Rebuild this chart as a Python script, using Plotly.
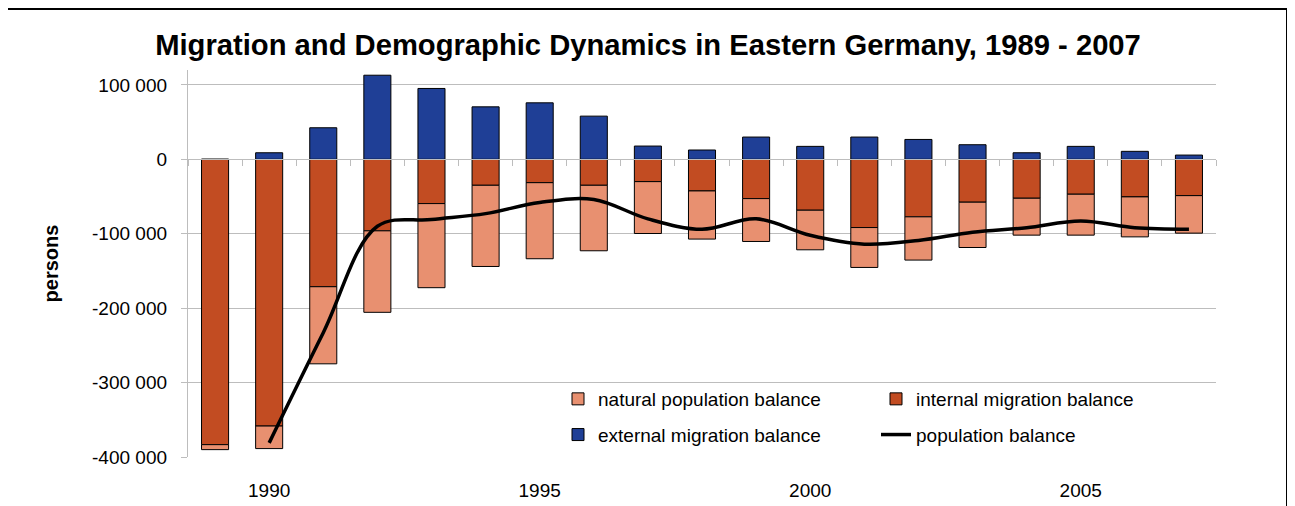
import plotly.graph_objects as go

years = [1989, 1990, 1991, 1992, 1993, 1994, 1995, 1996, 1997, 1998,
         1999, 2000, 2001, 2002, 2003, 2004, 2005, 2006, 2007]

external = [0, 8800, 42400, 113000, 95200, 70500, 75900, 58000, 17800, 12500,
            29900, 17400, 29900, 26700, 19600, 8800, 17400, 10700, 5700]
internal = [-383400, -358400, -171200, -96100, -59500, -34900, -31400, -34900, -30000, -42500,
            -52800, -68400, -91700, -77300, -57600, -52300, -46900, -50500, -48800]
natural = [-6700, -30300, -103600, -109500, -113000, -109100, -102200, -88000, -69700, -64700,
           -57600, -53200, -53600, -58100, -60900, -49600, -55000, -53700, -50400]

pop_years = [1990, 1991, 1992, 1993, 1994, 1995, 1996, 1997, 1998,
             1999, 2000, 2001, 2002, 2003, 2004, 2005, 2006, 2007]
pop_balance = [-381000, -233000, -90000, -81000, -73000, -58000, -54000, -80000, -94000,
               -80000, -102000, -114000, -109000, -98000, -92000, -83000, -92000, -94000]

y_ticks = [100000, 0, -100000, -200000, -300000, -400000]
y_labels = ['100 000', '0', '-100 000', '-200 000', '-300 000', '-400 000']
x_ticks = [1990, 1995, 2000, 2005]
boundaries = [y - 0.5 for y in years] + [years[-1] + 0.5]

# page body has an 8px margin, so lay things out 8px up/left of where they should land
OFF = 8
W, H = 1295, 506
L, T = 188 - OFF, 70 - OFF
R, B = W - (1216 - OFF), H - (457 - OFF)
pw, ph = W - L - R, H - T - B
YMIN, YMAX = -400000, 120000

FONT = 'Liberation Sans, Arial, sans-serif'
GRID = '#bdbdbd'

def px_x(p):
    return (p - OFF - L) / pw

def px_y(p):
    return (H - B - (p - OFF)) / ph

fig = go.Figure()

fig.add_trace(go.Bar(x=years, y=internal, name='internal migration balance', legend='legend2',
                     legendgroup='int', marker=dict(color='#C24C22', line=dict(color='black', width=1))))
fig.add_trace(go.Bar(x=years, y=natural, name='natural population balance', legend='legend',
                     legendgroup='nat', marker=dict(color='#E89070', line=dict(color='black', width=1))))
fig.add_trace(go.Bar(x=years, y=external, name='external migration balance', legend='legend',
                     legendgroup='ext', marker=dict(color='#1F3F96', line=dict(color='black', width=1))))
fig.add_trace(go.Scatter(x=pop_years, y=pop_balance, name='population balance', legend='legend2',
                         legendgroup='pop', mode='lines',
                         line=dict(color='black', width=3.5, shape='spline', smoothing=1)))
# helper trace so the zero-line tick axis gets drawn
fig.add_trace(go.Scatter(x=[], y=[], xaxis='x2', showlegend=False, hoverinfo='skip'))

fig.update_traces(width=0.5, selector=dict(type='bar'))

legend_style = dict(font=dict(family=FONT, size=19, color='black'), bgcolor='rgba(0,0,0,0)',
                    traceorder='grouped', tracegroupgap=8, yanchor='top')

fig.update_layout(
    width=W, height=H,
    margin=dict(l=L, r=R, t=T, b=B, autoexpand=False),
    paper_bgcolor='white', plot_bgcolor='white',
    barmode='relative', bargap=0.5,
    font=dict(family=FONT, size=19, color='black'),
    title=dict(text='<b>Migration and Demographic Dynamics in Eastern Germany, 1989 - 2007</b>',
               font=dict(family=FONT, size=29.2, color='black'),
               xref='container', x=(648 - OFF) / W, xanchor='center',
               yref='container', y=1 - (45 - OFF) / H, yanchor='middle'),
    xaxis=dict(range=[1988.5, 2007.5], tickvals=x_ticks, showgrid=False, zeroline=False,
               showline=False, ticks='outside', ticklen=0, tickcolor='rgba(0,0,0,0)',
               ticklabelstandoff=16, tickfont=dict(size=19), automargin=False),
    xaxis2=dict(overlaying='x', matches='x', anchor='free',
                position=(0 - YMIN) / (YMAX - YMIN),
                tickvals=boundaries, showticklabels=False, ticks='outside', ticklen=6,
                tickcolor=GRID, tickwidth=1.3, showline=True, linecolor=GRID, linewidth=1.3,
                showgrid=False, zeroline=False),
    yaxis=dict(range=[YMIN, YMAX], tickvals=y_ticks, ticktext=y_labels,
               showgrid=True, gridcolor=GRID, gridwidth=1.3, zeroline=False,
               showline=True, linecolor=GRID, linewidth=1.3,
               ticks='outside', ticklen=6, tickcolor=GRID, tickwidth=1.3,
               ticklabelstandoff=10, tickfont=dict(size=19), automargin=False,
               title=dict(text='<b>persons</b>', font=dict(size=20), standoff=28)),
    legend=dict(x=px_x(558), y=px_y(380), **legend_style),
    legend2=dict(x=px_x(876), y=px_y(380), **legend_style),
    shapes=[dict(type='rect', xref='paper', yref='paper',
                 x0=px_x(7), x1=px_x(1287), y0=px_y(530), y1=px_y(9),
                 line=dict(color='black', width=2), fillcolor='rgba(0,0,0,0)', layer='above')],
)

fig.write_html('out.html')
